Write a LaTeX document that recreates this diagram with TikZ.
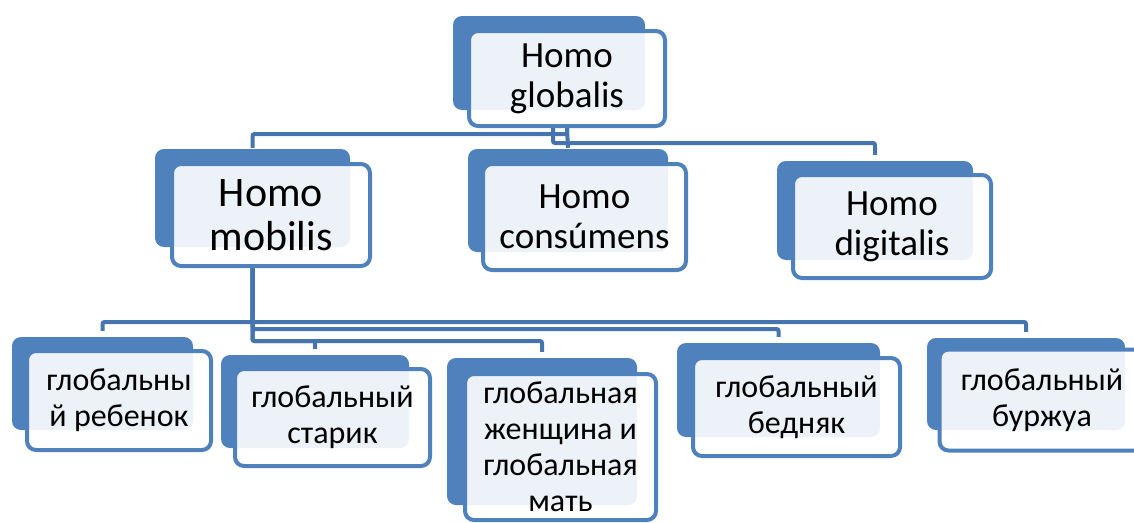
\documentclass[tikz,border=0pt]{standalone}
\usepackage{fontspec}
\setmainfont{Carlito}
\usetikzlibrary{backgrounds}
\definecolor{accent}{HTML}{4F81BD}
\definecolor{linkblue}{HTML}{4674AE}

\begin{document}
\begin{tikzpicture}[x=1pt, y=-1pt,
    back/.style={fill=accent, rounded corners=9pt, inner sep=0pt},
    card/.style={draw=accent, line width=4pt, fill=white, fill opacity=0.9, text opacity=1,
        rounded corners=9pt, align=center, inner sep=0pt},
    big/.style={font=\fontsize{37}{40}\selectfont},
    huge/.style={font=\fontsize{42}{44}\selectfont},
    small/.style={font=\fontsize{32}{36}\selectfont},
    link/.style={draw=linkblue, line width=4pt, rounded corners=2pt, shorten >=6pt}]
			\clip (0,0) rectangle (1134,522);

			% Верхний уровень
			\node[back, minimum width=192, minimum height=94] (globB) at (549,63) {};
			\node[card, big, minimum width=196, minimum height=95] (glob) at (567,78.5) {Homo\\globalis};

			% Второй уровень
			\node[back, minimum width=195, minimum height=98] (mobB) at (252.5,198) {};
			\node[card, huge, minimum width=198, minimum height=102] (mob) at (271,215) {Homo\\mobilis};
			\node[back, minimum width=200, minimum height=103] (conB) at (568,200.5) {};
			\node[card, big, minimum width=203, minimum height=106] (con) at (584.5,217) {Homo\\consúmens};
			\node[back, minimum width=196, minimum height=99] (digB) at (875,210.5) {};
			\node[card, big, minimum width=198, minimum height=103] (dig) at (892,226.5) {Homo\\digitalis};

			% Третий уровень
			\node[back, minimum width=181, minimum height=93] (k1B) at (102.5,383.5) {};
			\node[card, small, minimum width=184, minimum height=99] (k1) at (119,400.5) {глобальны\\й ребенок};
			\node[back, minimum width=188, minimum height=93] (k2B) at (315,401.5) {};
			\node[card, small, minimum width=195, minimum height=97] (k2) at (332.5,417.5) {глобальный\\старик};
			\node[back, minimum width=190, minimum height=147] (k3B) at (542,431.5) {};
			\node[card, small, minimum width=191, minimum height=146] (k3) at (560.5,447) {глобальная\\женщина и\\глобальная\\мать};
			\node[back, minimum width=203, minimum height=94] (k4B) at (778.5,390) {};
			\node[card, small, minimum width=207, minimum height=98] (k4) at (796.5,407) {глобальный\\бедняк};
			\node[back, minimum width=198, minimum height=92] (k5B) at (1026,384) {};
			\node[card, small, minimum width=205, minimum height=101] (k5) at (1042,400) {глобальный\\буржуа};

			% Соединительные линии
			\begin{scope}[on background layer]
				\draw[link, shorten >=1pt] (glob.south) -- ++(0,6) -| (mobB.north);
				\draw[link, shorten >=1pt] (glob.south) -- (conB.north);
				\draw[link] ([xshift=-14pt]glob.south) -- ++(0,15) -| (digB.north);
				\coordinate (mobOut) at (mobB.south |- mob.south);
				\draw[link] (mobOut) -- ++(0,54) -| (k1B.north);
				\draw[link] (mobOut) -- ++(0,54) -| (k5B.north);
				\draw[link] (mobOut) -- ++(0,61) -| (k4B.north);
				\draw[link] (mobOut) -- ++(0,73) -| (k2B.north);
				\draw[link] (mobOut) -- ++(0,73) -| (k3B.north);
			\end{scope}
		\end{tikzpicture}
\end{document}
